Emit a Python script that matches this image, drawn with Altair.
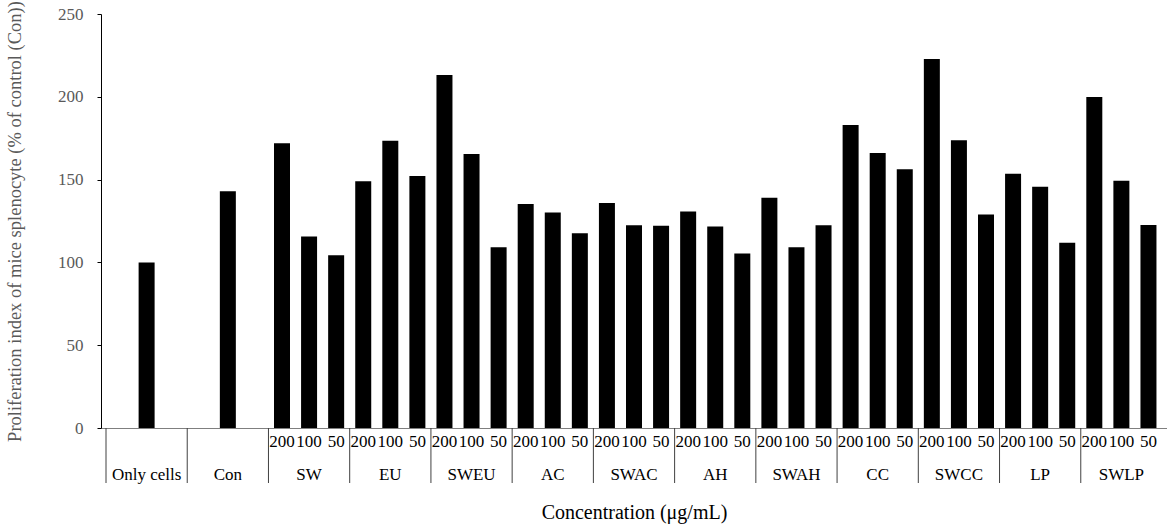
import altair as alt
import pandas as pd

groups = ["Only cells", "Con", "SW", "EU", "SWEU", "AC", "SWAC", "AH", "SWAH",
          "CC", "SWCC", "LP", "SWLP"]
concs = ["200", "100", "50"]
single_values = [100, 143]  # Only cells, Con
treat_values = [
    [172, 115.7, 104.3],   # SW
    [149, 173.5, 152.2],   # EU
    [213.2, 165.5, 109.1], # SWEU
    [135.3, 130.2, 117.6], # AC
    [135.9, 122.4, 122.2], # SWAC
    [130.8, 121.7, 105.3], # AH
    [139.1, 109.1, 122.4], # SWAH
    [183, 166.1, 156.2],   # CC
    [222.8, 173.7, 129],   # SWCC
    [153.6, 145.7, 111.9], # LP
    [199.9, 149.3, 122.6], # SWLP
]

FONT = "Liberation Serif"

rows = []
for gi, v in enumerate(single_values):
    rows.append({"group": groups[gi], "conc": "", "pos": gi * 3 + 1.5, "value": v})
for k, vals in enumerate(treat_values):
    gi = k + 2
    for j, v in enumerate(vals):
        rows.append({"group": groups[gi], "conc": concs[j], "pos": gi * 3 + j + 0.5, "value": v})
bars_df = pd.DataFrame(rows)
conc_df = bars_df[bars_df["conc"] != ""]
grp_df = pd.DataFrame({"group": groups, "pos": [i * 3 + 1.5 for i in range(len(groups))]})
sep_df = pd.DataFrame({"pos": [i * 3 for i in range(len(groups))]})

xscale = alt.Scale(domain=[0, 39], nice=False, zero=False)

bars = alt.Chart(bars_df).mark_bar(size=16, color="black").encode(
    x=alt.X("pos:Q", scale=xscale,
            axis=alt.Axis(title="Concentration (μg/mL)", labels=False, ticks=False,
                          grid=False, domain=True, domainColor="#7f7f7f",
                          titleFont=FONT, titleFontSize=20, titleFontWeight="normal",
                          titleColor="black", titlePadding=74)),
    y=alt.Y("value:Q", scale=alt.Scale(domain=[0, 250], nice=False),
            axis=alt.Axis(title="Proliferation index of mice splenocyte (% of control (Con))",
                          values=[0, 50, 100, 150, 200, 250], grid=False,
                          domainColor="black", tickColor="black", tickSize=4,
                          labelFont=FONT, labelFontSize=17, labelColor="#595959",
                          labelPadding=14, titleFont=FONT, titleFontSize=18.5,
                          titleFontWeight="normal", titleColor="#595959",
                          titlePadding=33)),
)

seps = alt.Chart(sep_df).mark_rule(color="#404040", strokeWidth=1).encode(
    x=alt.X("pos:Q", scale=xscale),
    y=alt.value(414), y2=alt.value(469),
)

conc_text = alt.Chart(conc_df).mark_text(font=FONT, fontSize=17, color="black",
                                         baseline="middle").encode(
    x=alt.X("pos:Q", scale=xscale), y=alt.value(428), text="conc:N",
)

grp_text = alt.Chart(grp_df).mark_text(font=FONT, fontSize=17, color="black",
                                       baseline="middle").encode(
    x=alt.X("pos:Q", scale=xscale), y=alt.value(461), text="group:N",
)

chart = alt.layer(bars, seps, conc_text, grp_text).properties(
    width=1066, height=414,
    autosize=alt.AutoSizeParams(type="none"),
    padding={"left": 101, "top": 14, "right": 0, "bottom": 100},
    background="white",
).configure_view(stroke=None)

chart.save("out.html", embed_options={"renderer": "svg", "actions": False})
